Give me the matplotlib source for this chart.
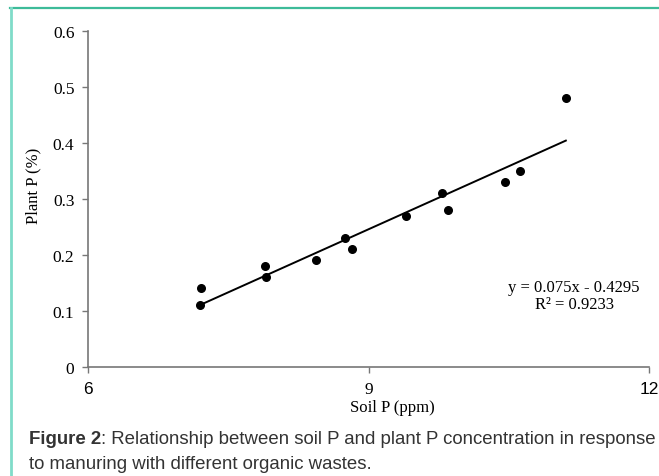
import matplotlib
matplotlib.use("Agg")
import matplotlib.pyplot as plt
import numpy as np
from matplotlib.lines import Line2D

# data
soil_p = [7.19, 7.21, 7.89, 7.90, 8.44, 8.75, 8.82, 9.40, 9.78, 9.85, 10.46, 10.62, 11.11]
plant_p = [0.11, 0.14, 0.18, 0.16, 0.19, 0.23, 0.21, 0.27, 0.31, 0.28, 0.33, 0.35, 0.48]
slope, intercept = 0.075, -0.4295
r2 = 0.9233
x_ticks = [6, 9, 12]
y_ticks = [0, 0.1, 0.2, 0.3, 0.4, 0.5, 0.6]
caption_bold = "Figure 2"
caption_rest = (": Relationship between soil P and plant P concentration in response\n"
                "to manuring with different organic wastes.")

W, H = 659, 477
fig = plt.figure(figsize=(W / 100, H / 100), dpi=100)
serif = "Liberation Serif"
sans = "Liberation Sans"

ax = fig.add_axes([88.3 / W, 1 - 367.7 / H, (649 - 88.3) / W, (367.7 - 31.7) / H])
ax.scatter(soil_p, plant_p, s=30, color="black", zorder=3)
xs = np.array([min(soil_p), max(soil_p)])
ax.plot(xs, slope * xs + intercept, color="black", linewidth=1.4)

ax.set_xlim(6, 12)
ax.set_ylim(0, 0.6)
ax.set_xticks(x_ticks)
ax.set_yticks(y_ticks)
ax.set_yticklabels([f"{v:g}" for v in y_ticks], fontfamily=serif, fontsize=12.5)
ax.set_xticklabels([str(v) for v in x_ticks], fontsize=12.5)
for lbl, fam in zip(ax.get_xticklabels(), [sans, serif, sans]):
    lbl.set_fontfamily(fam)
ax.tick_params(direction="out", length=4, width=1, color="#777777", pad=6)
for side in ["top", "right"]:
    ax.spines[side].set_visible(False)
for side in ["left", "bottom"]:
    ax.spines[side].set_color("#777777")
    ax.spines[side].set_linewidth(1.2)

ax.set_xlabel("Soil P (ppm)", fontfamily=serif, fontsize=12)
ax.xaxis.set_label_coords(0.542, -0.097)
ax.set_ylabel("Plant P (%)", fontfamily=serif, fontsize=12)
ax.yaxis.set_label_coords(-0.083, 0.542)

ax.text(11.2, 0.127, f"y = {slope}x - {abs(intercept)}\nR² = {r2}",
        fontfamily=serif, fontsize=12, ha="center", va="center",
        multialignment="center", linespacing=1.15)

# page decoration: teal rules
fig.add_artist(Line2D([10 / W, 1], [1 - 9 / H, 1 - 9 / H], color="#3dbb99", linewidth=1.6))
fig.add_artist(Line2D([11 / W, 11 / W], [0, 1 - 9 / H], color="#80dcc9", linewidth=2))

# caption
t = fig.text(29 / W, 1 - 440 / H, caption_bold, fontfamily=sans, fontweight="bold",
             fontsize=13.4, color="#333333", va="center")
fig.canvas.draw()
bb = t.get_window_extent()
fig.text(bb.x1 / W, 1 - 440 / H, caption_rest.split("\n")[0], fontfamily=sans,
         fontsize=13.4, color="#333333", va="center")
fig.text(29 / W, 1 - 465 / H, caption_rest.split("\n")[1], fontfamily=sans,
         fontsize=13.4, color="#333333", va="center")

fig.savefig("out.png", dpi=100)
